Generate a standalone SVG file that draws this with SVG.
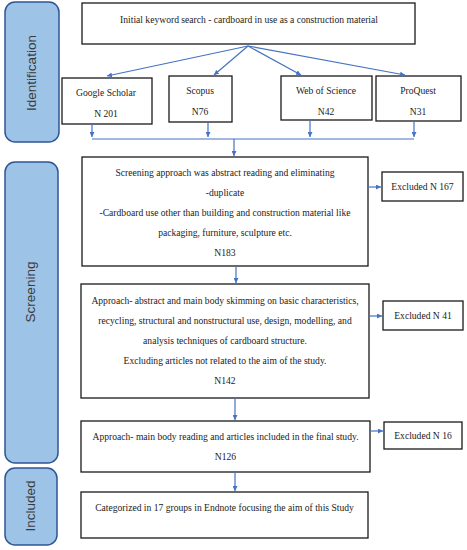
<svg xmlns="http://www.w3.org/2000/svg" width="467" height="550" viewBox="0 0 467 550">
<style>
.box{fill:#fff;stroke:#1a1a1a;stroke-width:1.3}
.panel{fill:#9DC3E6;stroke:#2F5597;stroke-width:1.5}
.t{font-family:"Liberation Serif","DejaVu Serif",serif;font-size:9.6px;fill:#222;text-anchor:middle}
.pt{font-family:"Liberation Sans","DejaVu Sans",sans-serif;font-size:13.5px;fill:#3a3a3a;text-anchor:middle}
.c{stroke:#4472C4;stroke-width:1.2;fill:none}
</style>
<defs>
<marker id="ah" viewBox="0 0 10 10" refX="10" refY="5" markerWidth="5" markerHeight="5" orient="auto" markerUnits="userSpaceOnUse">
<path d="M0,0 L10,5 L0,10 z" fill="#4472C4"/>
</marker>
</defs>
<rect width="467" height="550" fill="#fff"/>
<g id="panel-identification">
<rect class="panel" x="5" y="2" width="54" height="140" rx="10"/>
<text class="pt" transform="translate(36,73) rotate(-90)">Identification</text>
</g>
<g id="panel-screening">
<rect class="panel" x="5" y="162" width="53" height="301" rx="10"/>
<text class="pt" transform="translate(35,292) rotate(-90)">Screening</text>
</g>
<g id="panel-included">
<rect class="panel" x="5" y="468" width="52" height="77" rx="10"/>
<text class="pt" transform="translate(35,506) rotate(-90)">Included</text>
</g>
<g id="node-initial">
<rect class="box" x="82" y="3" width="333" height="41"/>
<text class="t" x="249" y="23">Initial keyword search - cardboard in use as a construction material</text>
</g>
<g id="node-google">
<rect class="box" x="62" y="78" width="90" height="46"/>
<text class="t" x="106" y="96">Google Scholar</text>
<text class="t" x="106" y="117">N 201</text>
</g>
<g id="node-scopus">
<rect class="box" x="169" y="76" width="63" height="46"/>
<text class="t" x="200" y="94">Scopus</text>
<text class="t" x="200" y="115">N76</text>
</g>
<g id="node-wos">
<rect class="box" x="281" y="76" width="91" height="44"/>
<text class="t" x="326" y="94">Web of Science</text>
<text class="t" x="326" y="115">N42</text>
</g>
<g id="node-proquest">
<rect class="box" x="376" y="76" width="85" height="45"/>
<text class="t" x="418" y="94">ProQuest</text>
<text class="t" x="418" y="115">N31</text>
</g>
<g id="node-screen1">
<rect class="box" x="82" y="157" width="286" height="109"/>
<text class="t" x="225" y="175.5">Screening approach was abstract reading and eliminating</text>
<text class="t" x="225" y="195.5">-duplicate</text>
<text class="t" x="225" y="215.5">-Cardboard use other than building and construction material like</text>
<text class="t" x="225" y="235.5">packaging, furniture, sculpture etc.</text>
<text class="t" x="225" y="255.5">N183</text>
</g>
<g id="node-excl167">
<rect class="box" x="382" y="172" width="81" height="29"/>
<text class="t" x="422.5" y="190">Excluded N 167</text>
</g>
<g id="node-screen2">
<rect class="box" x="81" y="284" width="288" height="114"/>
<text class="t" x="225" y="303.5">Approach- abstract and main body skimming on basic characteristics,</text>
<text class="t" x="225" y="323.5">recycling, structural and nonstructural use, design, modelling, and</text>
<text class="t" x="225" y="343.5">analysis techniques of cardboard structure.</text>
<text class="t" x="225" y="363.5">Excluding articles not related to the aim of the study.</text>
<text class="t" x="225" y="384">N142</text>
</g>
<g id="node-excl41">
<rect class="box" x="383" y="301" width="80" height="29"/>
<text class="t" x="423" y="319">Excluded N 41</text>
</g>
<g id="node-screen3">
<rect class="box" x="81" y="421" width="289" height="51"/>
<text class="t" x="225.5" y="440">Approach- main body reading and articles included in the final study.</text>
<text class="t" x="225.5" y="460">N126</text>
</g>
<g id="node-excl16">
<rect class="box" x="384" y="422" width="78" height="27"/>
<text class="t" x="423" y="438.5">Excluded N 16</text>
</g>
<g id="node-included">
<rect class="box" x="81" y="492" width="287" height="46"/>
<text class="t" x="224.5" y="511">Categorized in 17 groups in Endnote focusing the aim of this Study</text>
</g>
<g id="connectors">
<line class="c" x1="248" y1="46" x2="107" y2="76" marker-end="url(#ah)"/>
<line class="c" x1="248" y1="46" x2="214" y2="75" marker-end="url(#ah)"/>
<line class="c" x1="248" y1="46" x2="301" y2="75" marker-end="url(#ah)"/>
<line class="c" x1="248" y1="46" x2="405" y2="75" marker-end="url(#ah)"/>
<line class="c" x1="92" y1="124" x2="92" y2="137" marker-end="url(#ah)"/>
<line class="c" x1="208" y1="122" x2="208" y2="137" marker-end="url(#ah)"/>
<line class="c" x1="310" y1="120" x2="310" y2="137" marker-end="url(#ah)"/>
<line class="c" x1="414" y1="121" x2="414" y2="137" marker-end="url(#ah)"/>
<line class="c" x1="92" y1="139" x2="414" y2="139"/>
<line class="c" x1="234" y1="139" x2="234" y2="156" marker-end="url(#ah)"/>
<line class="c" x1="368" y1="187" x2="381" y2="187" marker-end="url(#ah)"/>
<line class="c" x1="236" y1="266" x2="236" y2="283" marker-end="url(#ah)"/>
<line class="c" x1="369" y1="316" x2="382" y2="316" marker-end="url(#ah)"/>
<line class="c" x1="235" y1="398" x2="235" y2="420" marker-end="url(#ah)"/>
<line class="c" x1="370" y1="431" x2="383" y2="431" marker-end="url(#ah)"/>
<line class="c" x1="235" y1="472" x2="235" y2="491" marker-end="url(#ah)"/>
</g>
</svg>
